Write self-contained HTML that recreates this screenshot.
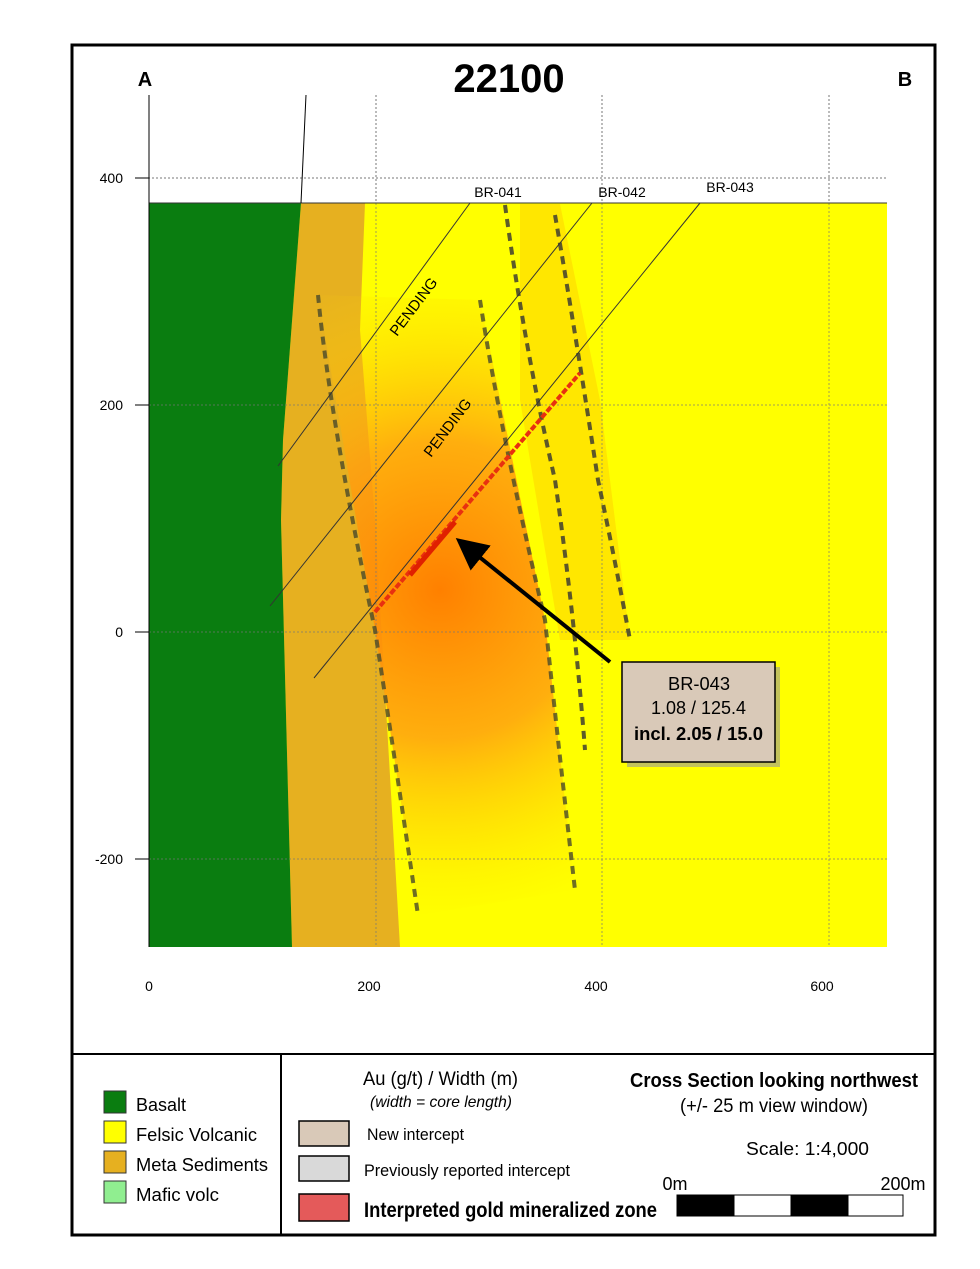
<!DOCTYPE html>
<html><head><meta charset="utf-8"><style>
body{margin:0;background:#fff;}
svg{display:block;font-family:"Liberation Sans",sans-serif;}
</style></head><body>
<svg width="980" height="1269" viewBox="0 0 980 1269">
<defs>
<radialGradient id="g" cx="440" cy="590" r="330" gradientUnits="userSpaceOnUse">
<stop offset="0" stop-color="#ff8000" stop-opacity="1"/>
<stop offset="0.45" stop-color="#ffa010" stop-opacity="0.85"/>
<stop offset="1" stop-color="#ffe000" stop-opacity="0"/>
</radialGradient>
<marker id="ah" markerWidth="8" markerHeight="8" refX="6" refY="4" orient="auto"><path d="M0,0 L8,4 L0,8 Z" fill="#000"/></marker>
</defs>
<rect x="72" y="45" width="863" height="1190" fill="#fff" stroke="#000" stroke-width="3"/>
<g stroke="#777" stroke-dasharray="2,2" stroke-width="1">
<line x1="376" y1="95" x2="376" y2="947"/><line x1="602" y1="95" x2="602" y2="947"/><line x1="829" y1="95" x2="829" y2="947"/>
<line x1="140" y1="178" x2="887" y2="178"/>
</g>
<rect x="149" y="203" width="738" height="744" fill="#ffff00"/>
<polygon points="301,203 365,203 360,330 375,520 400,947 292,947 281,520 283,440" fill="#e6b020"/>
<polygon points="318,295 480,300 545,620 575,890 418,915 375,630" fill="url(#g)"/>
<polygon points="520,204 560,204 600,400 630,640 560,640 520,400" fill="#ffb000" opacity="0.3"/>
<polygon points="149,203 301,203 283,440 281,520 292,947 149,947" fill="#0a7d10"/>
<g stroke="#777" stroke-dasharray="2,2" stroke-width="1" opacity="0.7">
<line x1="376" y1="203" x2="376" y2="947"/><line x1="602" y1="203" x2="602" y2="947"/><line x1="829" y1="203" x2="829" y2="947"/>
<line x1="149" y1="405" x2="887" y2="405"/><line x1="149" y1="632" x2="887" y2="632"/><line x1="149" y1="859" x2="887" y2="859"/>
</g>
<line x1="149" y1="203" x2="887" y2="203" stroke="#333" stroke-width="1"/>
<line x1="306" y1="95" x2="301" y2="203" stroke="#000" stroke-width="1"/>
<line x1="149" y1="95" x2="149" y2="947" stroke="#000" stroke-width="1"/>
<g fill="none" stroke-width="4" stroke-dasharray="8,6">
<path d="M318,295 Q330,420 375,630 Q395,760 418,915" stroke="#4a4a2a" opacity="0.8"/>
<path d="M480,300 Q500,430 545,620 Q560,760 575,890" stroke="#4a4a2a" opacity="0.8"/>
<path d="M505,205 Q525,350 555,480 Q575,620 585,750" stroke="#333" opacity="0.8"/>
<path d="M555,215 Q575,330 598,480 Q615,560 630,640" stroke="#333" opacity="0.8"/>
</g>
<g stroke="#333" stroke-width="1">
<line x1="470" y1="203" x2="278" y2="466"/>
<line x1="592" y1="203" x2="270" y2="606"/>
<line x1="700" y1="203" x2="314" y2="678"/>
</g>
<line x1="375" y1="612" x2="580" y2="373" stroke="#e83010" stroke-width="4" stroke-dasharray="6,2"/>
<line x1="410" y1="575" x2="455" y2="522" stroke="#e02000" stroke-width="5"/>
<text x="498" y="197" font-size="14" text-anchor="middle">BR-041</text>
<text x="622" y="197" font-size="14" text-anchor="middle">BR-042</text>
<text x="730" y="192" font-size="14" text-anchor="middle">BR-043</text>
<text x="0" y="0" font-size="15" transform="translate(397,337) rotate(-53)">PENDING</text>
<text x="0" y="0" font-size="15" transform="translate(431,458) rotate(-53)">PENDING</text>
<g font-size="14" text-anchor="end">
<text x="123" y="183">400</text><text x="123" y="410">200</text><text x="123" y="637">0</text><text x="123" y="864">-200</text>
</g>
<g stroke="#000"><line x1="135" y1="178" x2="149" y2="178"/><line x1="135" y1="405" x2="149" y2="405"/><line x1="135" y1="632" x2="149" y2="632"/><line x1="135" y1="859" x2="149" y2="859"/></g>
<g font-size="14" text-anchor="middle">
<text x="149" y="991">0</text><text x="369" y="991">200</text><text x="596" y="991">400</text><text x="822" y="991">600</text>
</g>
<text x="509" y="92" font-size="40" font-weight="bold" text-anchor="middle">22100</text>
<text x="145" y="86" font-size="20" font-weight="bold" text-anchor="middle">A</text>
<text x="905" y="86" font-size="20" font-weight="bold" text-anchor="middle">B</text>
<line x1="610" y1="662" x2="462" y2="543" stroke="#000" stroke-width="4" marker-end="url(#ah)"/>
<rect x="627" y="667" width="153" height="100" fill="#999" opacity="0.6"/>
<rect x="622" y="662" width="153" height="100" fill="#d9c9b8" stroke="#000" stroke-width="1.5"/>
<text x="668" y="690" font-size="18" textLength="62" lengthAdjust="spacingAndGlyphs">BR-043</text>
<text x="651" y="714" font-size="18" textLength="95" lengthAdjust="spacingAndGlyphs">1.08 / 125.4</text>
<text x="634" y="740" font-size="18" font-weight="bold" textLength="129" lengthAdjust="spacingAndGlyphs">incl. 2.05 / 15.0</text>
<line x1="72" y1="1054" x2="935" y2="1054" stroke="#000" stroke-width="2"/>
<line x1="281" y1="1054" x2="281" y2="1235" stroke="#000" stroke-width="2"/>
<g stroke="#333" stroke-width="1">
<rect x="104" y="1091" width="22" height="22" fill="#0a7d10"/>
<rect x="104" y="1121" width="22" height="22" fill="#ffff00"/>
<rect x="104" y="1151" width="22" height="22" fill="#e6b020"/>
<rect x="104" y="1181" width="22" height="22" fill="#90ee90"/>
</g>
<g font-size="18" lengthAdjust="spacingAndGlyphs">
<text x="136" y="1111" textLength="50" lengthAdjust="spacingAndGlyphs">Basalt</text>
<text x="136" y="1141" textLength="121" lengthAdjust="spacingAndGlyphs">Felsic Volcanic</text>
<text x="136" y="1171" textLength="132" lengthAdjust="spacingAndGlyphs">Meta Sediments</text>
<text x="136" y="1201" textLength="83" lengthAdjust="spacingAndGlyphs">Mafic volc</text></g>
<text x="363" y="1085" font-size="19" textLength="155" lengthAdjust="spacingAndGlyphs">Au (g/t) / Width (m)</text>
<text x="370" y="1107" font-size="16" font-style="italic" textLength="142" lengthAdjust="spacingAndGlyphs">(width = core length)</text>
<g stroke="#000" stroke-width="1.5">
<rect x="299" y="1121" width="50" height="25" fill="#d9c9b8"/>
<rect x="299" y="1156" width="50" height="25" fill="#d9d9d9"/>
<rect x="299" y="1194" width="50" height="27" fill="#e45a5a"/>
</g>
<text x="367" y="1140" font-size="17" textLength="97" lengthAdjust="spacingAndGlyphs">New intercept</text>
<text x="364" y="1176" font-size="17" textLength="206" lengthAdjust="spacingAndGlyphs">Previously reported  intercept</text>
<text x="364" y="1217" font-size="21" font-weight="bold" textLength="293" lengthAdjust="spacingAndGlyphs">Interpreted gold mineralized zone</text>
<text x="630" y="1087" font-size="20" font-weight="bold" textLength="288" lengthAdjust="spacingAndGlyphs">Cross Section looking northwest</text>
<text x="680" y="1112" font-size="19" textLength="188" lengthAdjust="spacingAndGlyphs">(+/- 25 m view window)</text>
<text x="746" y="1155" font-size="18" textLength="123" lengthAdjust="spacingAndGlyphs">Scale: 1:4,000</text>
<text x="675" y="1190" font-size="18" text-anchor="middle">0m</text>
<text x="903" y="1190" font-size="18" text-anchor="middle">200m</text>
<g stroke="#000" stroke-width="1">
<rect x="677" y="1195" width="57" height="21" fill="#000"/>
<rect x="734" y="1195" width="57" height="21" fill="#fff"/>
<rect x="791" y="1195" width="57" height="21" fill="#000"/>
<rect x="848" y="1195" width="55" height="21" fill="#fff"/>
</g>
</svg>
</body></html>
